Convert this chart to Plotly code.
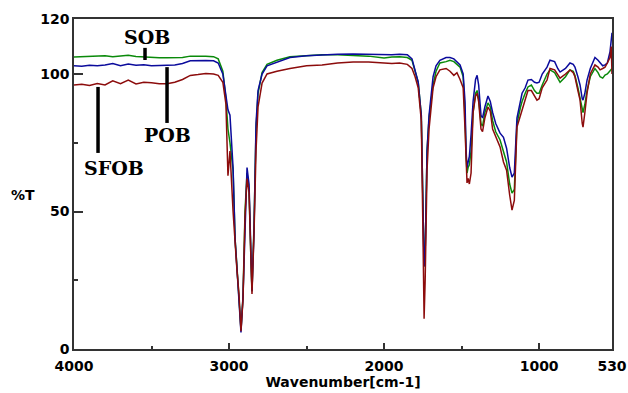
import plotly.graph_objects as go

wavenumber = [4000, 3950, 3900, 3850, 3800, 3750, 3700, 3650, 3600, 3550, 3500, 3450, 3400, 3350, 3300, 3250, 3200, 3150, 3100,
              3070, 3040, 3020, 3007, 2994, 2974, 2961, 2949, 2936, 2923, 2910, 2904, 2897, 2884, 2871, 2858, 2852, 2839, 2833,
              2826, 2813, 2787, 2755, 2691, 2607, 2500, 2400, 2300, 2200, 2100, 2000, 1950, 1900, 1850, 1820, 1800, 1780, 1760,
              1750, 1742, 1735, 1729, 1723, 1710, 1697, 1684, 1665, 1640, 1600, 1575, 1550, 1530, 1510, 1490, 1478, 1471, 1465,
              1458, 1450, 1439, 1426, 1410, 1400, 1390, 1375, 1365, 1350, 1330, 1315, 1300, 1280, 1252, 1230, 1210, 1190, 1175,
              1160, 1143, 1120, 1110, 1090, 1072, 1050, 1030, 1014, 1000, 980, 949, 930, 900, 880, 865, 830, 801, 780, 769, 750,
              736, 722, 717, 705, 691, 670, 640, 620, 607, 590, 575, 560, 543, 535, 530]

sob = [106.2, 106.3, 106.5, 106.4, 106.6, 106.3, 106.5, 106.8, 106.4, 106.2, 106.0, 105.9, 105.9, 105.9, 106.0, 106.5, 106.6, 106.5, 106.3,
       105.5, 101, 91, 80, 75, 65, 40, 30, 20, 7, 19, 30, 50, 64, 58, 31, 21, 45, 65,
       80, 93, 100.5, 103.5, 105, 106.3, 106.6, 107, 107, 106.8, 106.5, 105.8, 106.2, 106.3, 106, 105, 101, 97, 85,
       60, 30, 35, 60, 72, 84, 91, 96, 101, 104, 104.5, 105, 104.5, 103.5, 102.5, 99, 85, 70, 64,
       66, 67, 72, 86, 93, 94, 91, 82, 81, 86, 89.5, 88, 83, 79, 76, 72, 68, 60, 56.7,
       58, 82, 88, 90, 93, 95.3, 96, 94, 93, 93, 96, 100, 101.5, 100.5, 98.5, 97, 99, 101.5, 101, 99.5, 95,
       91, 87, 86, 89, 94, 99, 102, 100.5, 99, 98.5, 99.6, 100, 101, 101.5, 102]

pob = [103.0, 102.8, 103.2, 103.0, 103.3, 103.8, 103.0, 103.6, 103.2, 103.4, 103.0, 103.2, 103.2, 103.3, 103.8, 104.8, 104.9, 104.9, 104.8,
       104, 100, 91.6, 87, 85, 66, 40, 30, 20, 6, 19, 30, 50, 66, 60, 32, 21, 43, 68,
       82, 94, 100, 103, 104.4, 106, 106.6, 107, 107.2, 107.3, 107.2, 107, 107, 107.2, 107, 105.5, 101, 97, 85,
       60, 30, 35, 60, 72, 85, 93, 99, 103, 105, 106, 106, 105.5, 104.5, 103.3, 100, 90, 72, 66,
       68, 70, 78, 90, 98, 99.5, 96, 85, 84, 88, 92, 90, 86, 82, 78.5, 77, 73, 66, 62.5,
       64, 84, 90, 93, 95, 97.8, 98, 97, 96.7, 97, 100, 102.5, 105, 104.5, 102, 100.7, 102, 104, 103.5, 102.5, 99,
       96, 91, 90.5, 93, 97.8, 102, 106, 105, 104, 103, 103.3, 104, 108, 112, 115]

sfob = [96.0, 96.3, 95.8, 96.5, 96.0, 97.5, 96.5, 97.8, 96.4, 97.0, 96.8, 96.5, 96.5, 97.0, 98.0, 99.5, 99.8, 100.2, 100.0,
        99.5, 97, 89, 63, 72, 50, 37, 28.7, 20, 6.5, 18, 30, 48, 62, 57, 31, 20, 42, 55,
        72, 88, 96.7, 100, 101, 102, 103, 103.3, 104, 104.4, 104.4, 104, 103.8, 104, 103.5, 102, 99, 95, 83,
        45, 11, 25, 55, 65, 80, 89, 95, 99, 101.5, 102, 101, 99.5, 100.5, 98, 95, 80, 68, 60.4,
        62, 60, 64, 86, 92, 93, 90, 80, 79, 84, 88, 86.5, 80, 77, 73.5, 68, 65, 56, 50.5,
        54, 80.7, 85, 87, 91, 94, 94, 92, 90.5, 91, 95, 97.8, 102, 101.5, 99.5, 98.5, 100, 101.5, 100.5, 99, 94,
        90.5, 82, 80.7, 86, 93, 100, 103.3, 102.5, 101.5, 102, 102.5, 104, 106, 110, 100]

series_names = ["SOB", "POB", "SFOB"]
series_values = [sob, pob, sfob]
series_colors = ["#0a8a0a", "#0b0b9c", "#8c0c0c"]

x_tick_vals = [4000, 3000, 2000, 1000, 530]
x_minor_vals = [3500, 2500, 1500]
y_tick_vals = [0, 50, 100, 120]
y_minor_vals = [25, 75]

fig = go.Figure()
for name, vals, col in zip(series_names, series_values, series_colors):
    fig.add_trace(go.Scatter(x=wavenumber, y=vals, mode="lines", name=name,
                             line=dict(color=col, width=1.5), showlegend=False))

tick_font = dict(family="DejaVu Sans", size=14, color="black", weight="bold")

fig.update_layout(
    width=628, height=393,
    margin=dict(l=74, r=16, t=19, b=44, autoexpand=False),
    paper_bgcolor="white", plot_bgcolor="white",
    xaxis=dict(range=[4000, 530], showgrid=False, zeroline=False, automargin=False,
               showline=True, linecolor="#333", linewidth=1.5, mirror=True,
               ticks="inside", ticklen=6, tickcolor="#333", tickwidth=1.5,
               tickvals=x_tick_vals, ticktext=[str(v) for v in x_tick_vals],
               tickfont=tick_font, ticklabelstandoff=3,
               minor=dict(tickvals=x_minor_vals, ticks="inside", ticklen=3, tickcolor="#333", tickwidth=1.5),
               title=dict(text="Wavenumber[cm-1]", font=tick_font, standoff=0)),
    yaxis=dict(range=[0, 120], showgrid=False, zeroline=False, automargin=False,
               showline=True, linecolor="#333", linewidth=1.5, mirror=True,
               ticks="inside", ticklen=9, tickcolor="#333", tickwidth=1.5,
               tickvals=y_tick_vals, ticktext=[str(v) for v in y_tick_vals],
               tickfont=tick_font,
               minor=dict(tickvals=y_minor_vals, ticks="inside", ticklen=4, tickcolor="#333", tickwidth=1.5)),
)

fig.add_annotation(text="%T", xref="paper", yref="paper", x=-0.094, y=0.467,
                   xanchor="center", yanchor="middle", showarrow=False, font=tick_font)

label_font = dict(family="DejaVu Serif", size=19, color="black", weight="bold")
labels = [("SOB", 3529, 113.5, 3542, 109.5, 105.1),
          ("POB", 3400, 77.8, 3400, 102.5, 82.2),
          ("SFOB", 3742, 65.8, 3845, 95.3, 71.3)]
for text, tx, ty, lx, ly0, ly1 in labels:
    fig.add_annotation(text=text, x=tx, y=ty, xanchor="center", yanchor="middle",
                       showarrow=False, font=label_font)
    fig.add_shape(type="line", x0=lx, x1=lx, y0=ly0, y1=ly1, line=dict(color="black", width=3.5))

fig.write_html("out.html", config={"displayModeBar": False},
               post_script="document.body.style.margin='0';document.body.style.overflow='hidden';")
